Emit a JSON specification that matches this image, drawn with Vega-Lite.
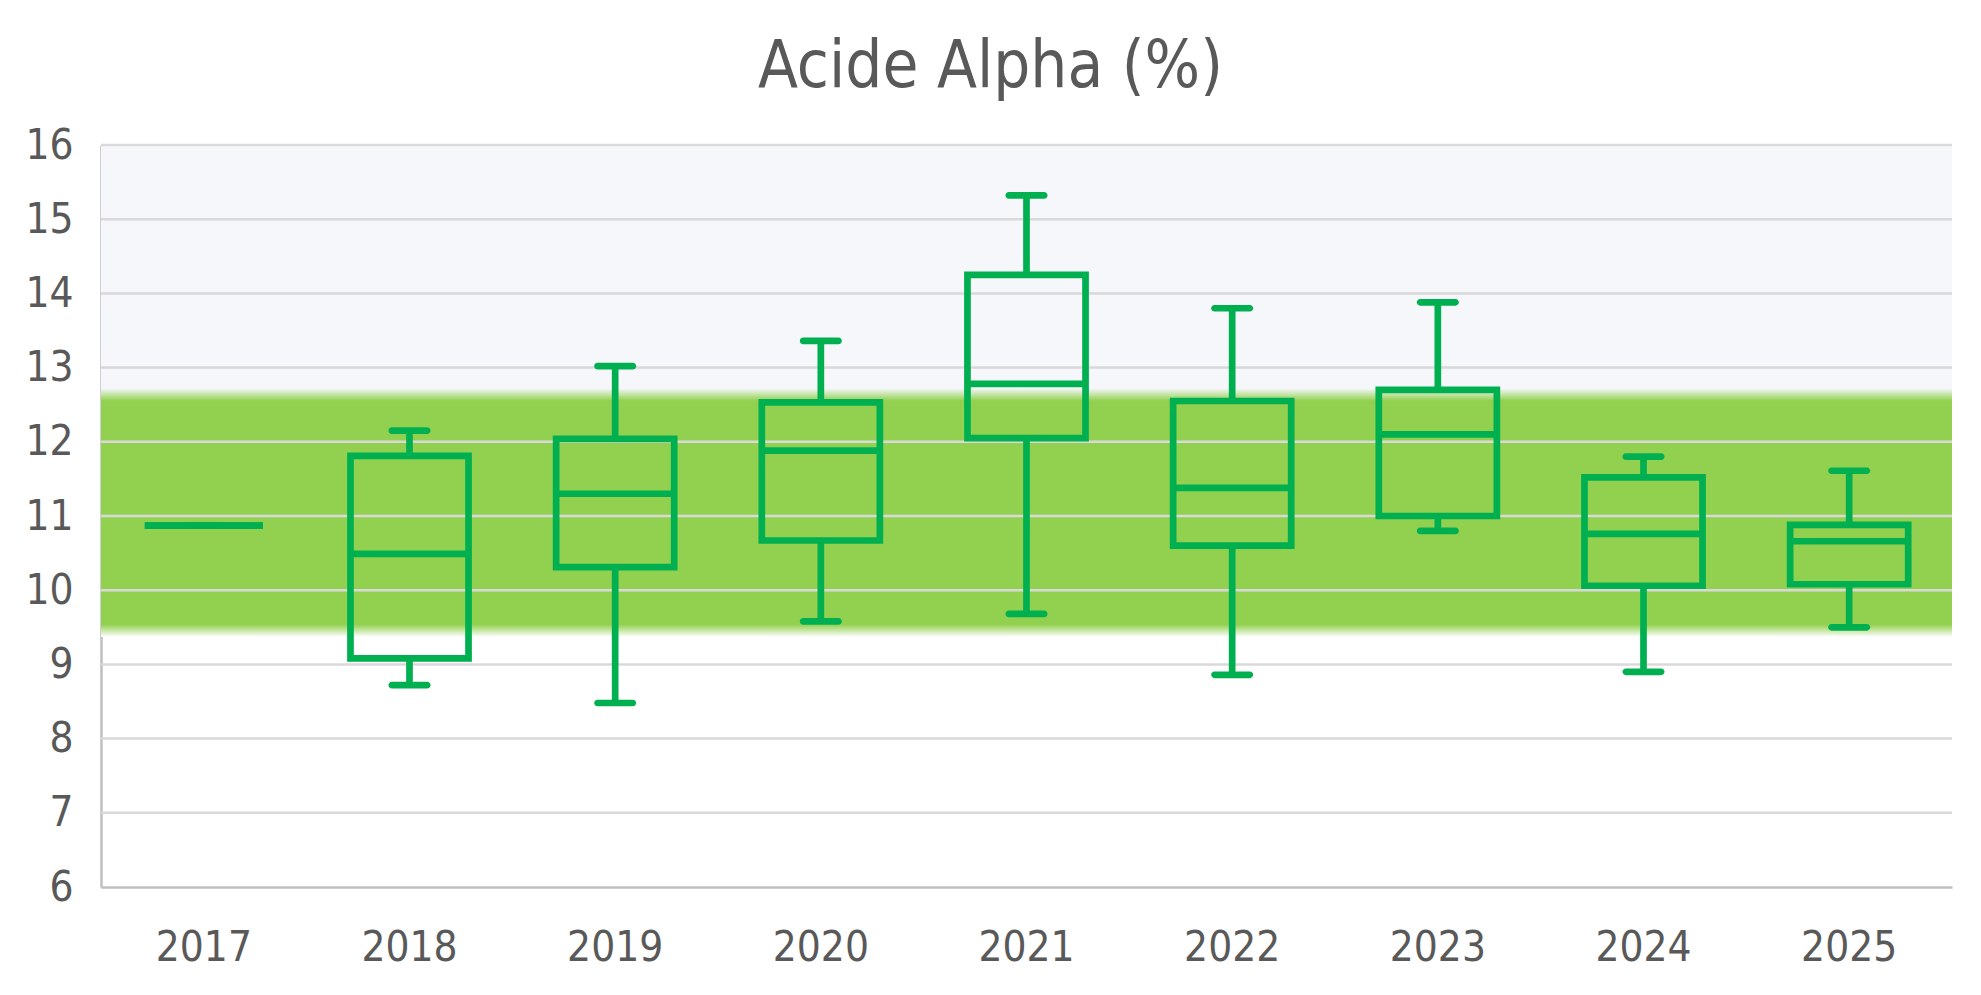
{
  "$schema": "https://vega.github.io/schema/vega-lite/v6.json",
  "width": 1851,
  "height": 742,
  "autosize": {"type": "none"},
  "padding": {"left": 101, "top": 145, "right": 29, "bottom": 108},
  "background": "#ffffff",
  "title": {
    "text": "Acide Alpha (%)",
    "font": "DejaVu Sans Condensed, DejaVu Sans",
    "fontSize": 65,
    "fontWeight": "normal",
    "color": "#595959",
    "anchor": "middle",
    "baseline": "alphabetic",
    "offset": 54,
    "dx": -36,
    "dy": 82
  },
  "config": {
    "view": {"stroke": null},
    "font": "DejaVu Sans Condensed, DejaVu Sans"
  },
  "datasets": {
    "stats": [
      {"year": "2017", "lower": 10.87, "q1": 10.87, "median": 10.87, "q3": 10.87, "upper": 10.87},
      {"year": "2018", "lower": 8.72, "q1": 9.08, "median": 10.49, "q3": 11.81, "upper": 12.15},
      {"year": "2019", "lower": 8.48, "q1": 10.31, "median": 11.30, "q3": 12.04, "upper": 13.02},
      {"year": "2020", "lower": 9.58, "q1": 10.67, "median": 11.88, "q3": 12.53, "upper": 13.36},
      {"year": "2021", "lower": 9.68, "q1": 12.05, "median": 12.78, "q3": 14.25, "upper": 15.32},
      {"year": "2022", "lower": 8.86, "q1": 10.60, "median": 11.38, "q3": 12.55, "upper": 13.80},
      {"year": "2023", "lower": 10.80, "q1": 11.00, "median": 12.10, "q3": 12.70, "upper": 13.88},
      {"year": "2024", "lower": 8.90, "q1": 10.06, "median": 10.76, "q3": 11.52, "upper": 11.80},
      {"year": "2025", "lower": 9.50, "q1": 10.08, "median": 10.66, "q3": 10.88, "upper": 11.61}
    ],
    "zones": [
      {"zone": "above", "from": 12.68, "to": 16},
      {"zone": "target", "from": 9.37, "to": 12.72}
    ],
    "grid": [
      {"v": 7}, {"v": 8}, {"v": 9}, {"v": 10}, {"v": 11},
      {"v": 12}, {"v": 13}, {"v": 14}, {"v": 15}, {"v": 16}
    ]
  },
  "layer": [
    {
      "data": {"name": "zones"},
      "transform": [{"filter": "datum.zone == 'above'"}],
      "mark": {"type": "rect", "color": "#f5f7fa"},
      "encoding": {
        "x": {"value": 0},
        "x2": {"value": "width"},
        "y": {"field": "from", "type": "quantitative", "scale": {"domain": [6, 16], "nice": false, "zero": false}},
        "y2": {"field": "to"}
      }
    },
    {
      "data": {"name": "zones"},
      "transform": [{"filter": "datum.zone == 'target'"}],
      "mark": {
        "type": "rect",
        "color": {
          "gradient": "linear",
          "x1": 0, "y1": 0, "x2": 0, "y2": 1,
          "stops": [
            {"offset": 0, "color": "#f5f7fa"},
            {"offset": 0.05, "color": "#92d050"},
            {"offset": 0.95, "color": "#92d050"},
            {"offset": 1, "color": "#ffffff"}
          ]
        }
      },
      "encoding": {
        "x": {"value": 0},
        "x2": {"value": "width"},
        "y": {"field": "from", "type": "quantitative"},
        "y2": {"field": "to"}
      }
    },
    {
      "data": {"name": "grid"},
      "mark": {"type": "rule", "color": "#d9d9d9", "strokeWidth": 2.5},
      "encoding": {
        "y": {"field": "v", "type": "quantitative"}
      }
    },
    {
      "data": {"name": "stats"},
      "encoding": {
        "x": {
          "field": "year",
          "type": "ordinal",
          "scale": {"paddingInner": 0, "paddingOuter": 0},
          "axis": {
            "title": null,
            "labelAngle": 0,
            "labelFontSize": 42,
            "labelColor": "#595959",
            "labelPadding": 40,
            "ticks": false,
            "domainColor": "#bfbfbf",
            "domainWidth": 2.5
          }
        }
      },
      "layer": [
        {
          "mark": {"type": "rule", "color": "#00b050", "strokeWidth": 6.7},
          "encoding": {
            "y": {"field": "q3", "type": "quantitative"},
            "y2": {"field": "upper"}
          }
        },
        {
          "mark": {"type": "rule", "color": "#00b050", "strokeWidth": 6.7},
          "encoding": {
            "y": {"field": "lower", "type": "quantitative"},
            "y2": {"field": "q1"}
          }
        },
        {
          "mark": {"type": "tick", "orient": "horizontal", "color": "#00b050", "size": 42, "thickness": 6.7, "cornerRadius": 3.3, "opacity": 1},
          "encoding": {
            "y": {"field": "upper", "type": "quantitative"}
          }
        },
        {
          "mark": {"type": "tick", "orient": "horizontal", "color": "#00b050", "size": 42, "thickness": 6.7, "cornerRadius": 3.3, "opacity": 1},
          "encoding": {
            "y": {"field": "lower", "type": "quantitative"}
          }
        },
        {
          "mark": {"type": "bar", "width": {"band": 0.574}, "fill": "transparent", "stroke": "#00b050", "strokeWidth": 6.7},
          "encoding": {
            "y": {"field": "q1", "type": "quantitative"},
            "y2": {"field": "q3"}
          }
        },
        {
          "mark": {"type": "bar", "width": {"band": 0.574}, "fill": "transparent", "stroke": "#00b050", "strokeWidth": 6.7},
          "encoding": {
            "y": {
              "field": "median",
              "type": "quantitative",
              "axis": {
                "title": null,
                "values": [6, 7, 8, 9, 10, 11, 12, 13, 14, 15, 16],
                "format": "d",
                "grid": false,
                "ticks": false,
                "labelFontSize": 42,
                "labelColor": "#595959",
                "labelPadding": 28,
                "domainColor": "#bfbfbf",
                "domainWidth": 2.5
              }
            },
            "y2": {"field": "median"}
          }
        }
      ]
    }
  ]
}
